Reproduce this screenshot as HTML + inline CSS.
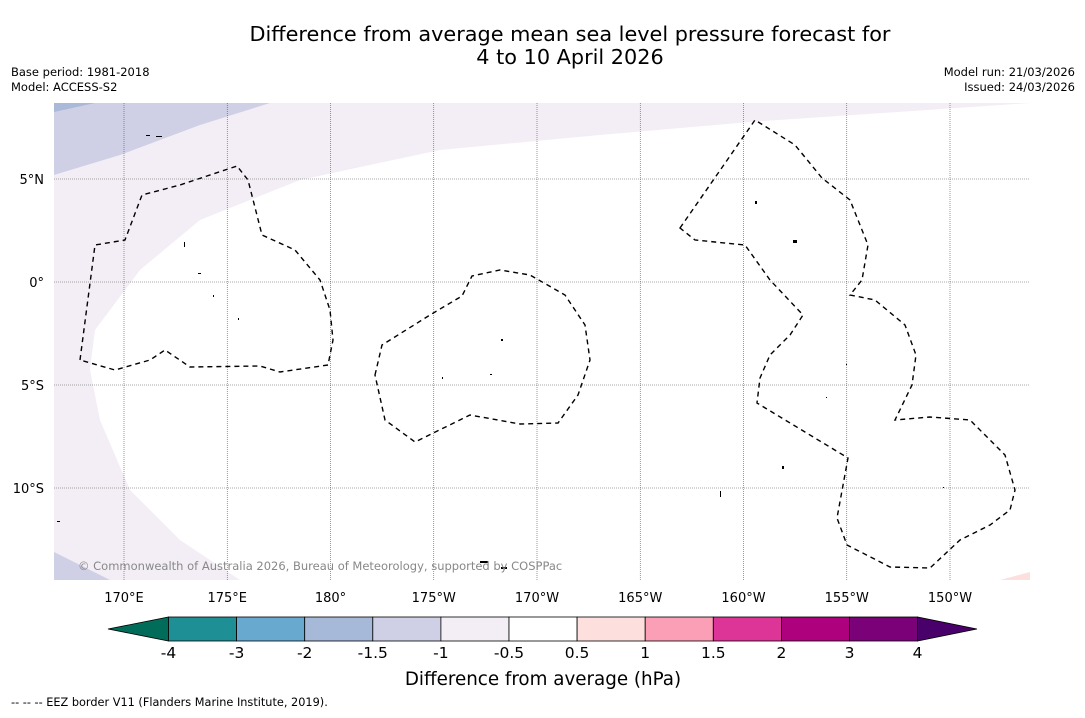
<!DOCTYPE html>
<html><head><meta charset="utf-8"><style>
body{margin:0;background:#fff;font-family:"Liberation Sans","DejaVu Sans",sans-serif;}
svg text{font-family:"DejaVu Sans","Liberation Sans",sans-serif;}
</style></head><body>
<svg width="1085" height="713" viewBox="0 0 1085 713">
<text x="570" y="41" font-size="20.8" text-anchor="middle">Difference from average mean sea level pressure forecast for</text>
<text x="570" y="64" font-size="20.8" text-anchor="middle">4 to 10 April 2026</text>
<text x="11" y="76" font-size="11.5">Base period: 1981-2018</text>
<text x="11" y="91" font-size="11.5">Model: ACCESS-S2</text>
<text x="1075" y="76" font-size="11.5" text-anchor="end">Model run: 21/03/2026</text>
<text x="1075" y="91" font-size="11.5" text-anchor="end">Issued: 24/03/2026</text>
<defs><clipPath id="mc"><rect x="54" y="103" width="976" height="477"/></clipPath></defs>
<g clip-path="url(#mc)">
<rect x="54" y="103" width="976" height="477" fill="#fff"/>
<path fill="#f3eef5" d="M54,103 L1030,103 L750,122 L600,135 L440,150 L300,180 L200,220 L140,270 L95,330 L90,370 L100,420 L130,490 L180,540 L240,580 L54,580 Z"/>
<path fill="#cfd0e5" d="M54,103 L270,103 L200,125 L120,155 L54,175 Z"/>
<path fill="#a9b9d7" d="M54,103 L95,103 L54,112 Z"/>
<path fill="#cfd0e5" d="M54,552 L110,580 L54,580 Z"/>
<path fill="#fde0dd" d="M1000,580 L1030,572 L1030,580 Z"/>
<g id="grid" stroke="#555" stroke-width="0.6" stroke-dasharray="1,1"></g>
<g fill="none" stroke="#000" stroke-width="1.4" stroke-dasharray="5,4">
<path d="M80,360 L95,245 L125,240 L142,195 L180,185 L237,166 L248,180 L262,235 L295,250 L320,280 L330,310 L333,340 L328,365 L280,372 L260,366 L190,367 L165,350 L150,360 L115,370 Z"/>
<path d="M375,375 L382,345 L430,315 L462,296 L472,276 L500,270 L530,275 L565,295 L585,325 L590,360 L578,395 L558,423 L520,424 L470,415 L415,442 L385,420 Z"/>
<path d="M680,228 L755,120 L795,145 L822,178 L850,200 L868,245 L862,280 L850,295 L875,300 L905,325 L916,355 L912,385 L895,420 L930,417 L970,420 L1005,455 L1015,490 L1010,510 L990,525 L960,540 L930,568 L890,567 L847,545 L837,518 L848,458 L757,403 L760,378 L770,355 L790,335 L803,315 L770,280 L745,245 L695,240 Z"/>
</g>
<g fill="#000">
<rect x="146" y="135" width="4" height="1"/><rect x="156" y="136" width="6" height="1"/><rect x="184" y="242" width="1" height="5"/><rect x="198" y="273" width="3" height="1"/><rect x="213" y="295" width="1" height="2"/><rect x="238" y="318" width="1" height="2"/><rect x="501" y="339" width="2" height="2"/><rect x="490" y="374" width="2" height="1"/><rect x="755" y="201" width="2" height="3"/><rect x="793" y="240" width="4" height="3"/><rect x="782" y="466" width="2" height="3"/><rect x="720" y="491" width="1" height="6"/><rect x="480" y="561" width="8" height="2"/><rect x="501" y="567" width="6" height="2"/><rect x="57" y="521" width="3" height="1"/><rect x="442" y="377" width="1" height="2"/><rect x="826" y="397" width="1" height="1"/><rect x="846" y="364" width="1" height="1"/><rect x="943" y="487" width="1" height="1"/>
</g>
<text x="78" y="570" font-size="11.5" fill="#888">© Commonwealth of Australia 2026, Bureau of Meteorology, supported by COSPPac</text>
</g>
<g id="axes" font-size="13"></g>
<g id="cbar"></g>
<text x="543" y="685" font-size="18.3" text-anchor="middle">Difference from average (hPa)</text>
<text x="11" y="706" font-size="11.3">--  --  -- EEZ border V11 (Flanders Marine Institute, 2019).</text>
</svg>
<script>
const lonTicks=[170,175,180,185,190,195,200,205,210];
const lonLabels=["170°E","175°E","180°","175°W","170°W","165°W","160°W","155°W","150°W"];
const latTicks=[5,0,-5,-10];
const latLabels=["5°N","0°","5°S","10°S"];
const cbLevels=["-4","-3","-2","-1.5","-1","-0.5","0.5","1","1.5","2","3","4"];
const cbColors=["#1f8f96","#67a9cf","#a6b9d8","#cfd0e5","#f3eef5","#ffffff","#fde0dd","#fa9fb5","#dd3497","#ae017e","#7a0177"];
const cbUnder="#016c59", cbOver="#49006a";
const NS="http://www.w3.org/2000/svg";
function X(lon){return 124+(lon-170)*20.65;}
function Y(lat){return 282-lat*20.6;}
function mk(t,a,p){const e=document.createElementNS(NS,t);for(const k in a)e.setAttribute(k,a[k]);p.appendChild(e);return e;}
const grid=document.getElementById('grid'),axes=document.getElementById('axes');
lonTicks.forEach((l,i)=>{const x=X(l);
 const g=mk('line',{x1:x,x2:x,y1:103,y2:580},grid);
 
 
 const t=mk('text',{x:x,y:602,'text-anchor':'middle'},axes);t.textContent=lonLabels[i];
 
 });
latTicks.forEach((l,i)=>{const y=Y(l);
 const g=mk('line',{x1:54,x2:1030,y1:y,y2:y},grid);
 
 
 const t=mk('text',{x:44,y:y+5,'text-anchor':'end'},axes);t.textContent=latLabels[i];
 
 });
const cb=document.getElementById('cbar');const x0=168.5,w=68.1,y0=617,h=24;
const u=mk('polygon',{points:`${x0},${y0} ${x0},${y0+h} 108,${y0+h/2}`,fill:cbUnder,stroke:'#000','stroke-width':0.8},cb);


const xe=x0+w*cbColors.length;
const o=mk('polygon',{points:`${xe},${y0} ${xe},${y0+h} 977,${y0+h/2}`,fill:cbOver,stroke:'#000','stroke-width':0.8},cb);


cbColors.forEach((c,i)=>{const r=mk('rect',{x:x0+i*w,y:y0,width:w,height:h,fill:c,stroke:'#000','stroke-width':0.8},cb);
 
 });
cbLevels.forEach((l,i)=>{const t=mk('text',{x:x0+i*w,y:658,'text-anchor':'middle','font-size':15.5},cb);t.textContent=l;
 
 });
</script>
</body></html>
